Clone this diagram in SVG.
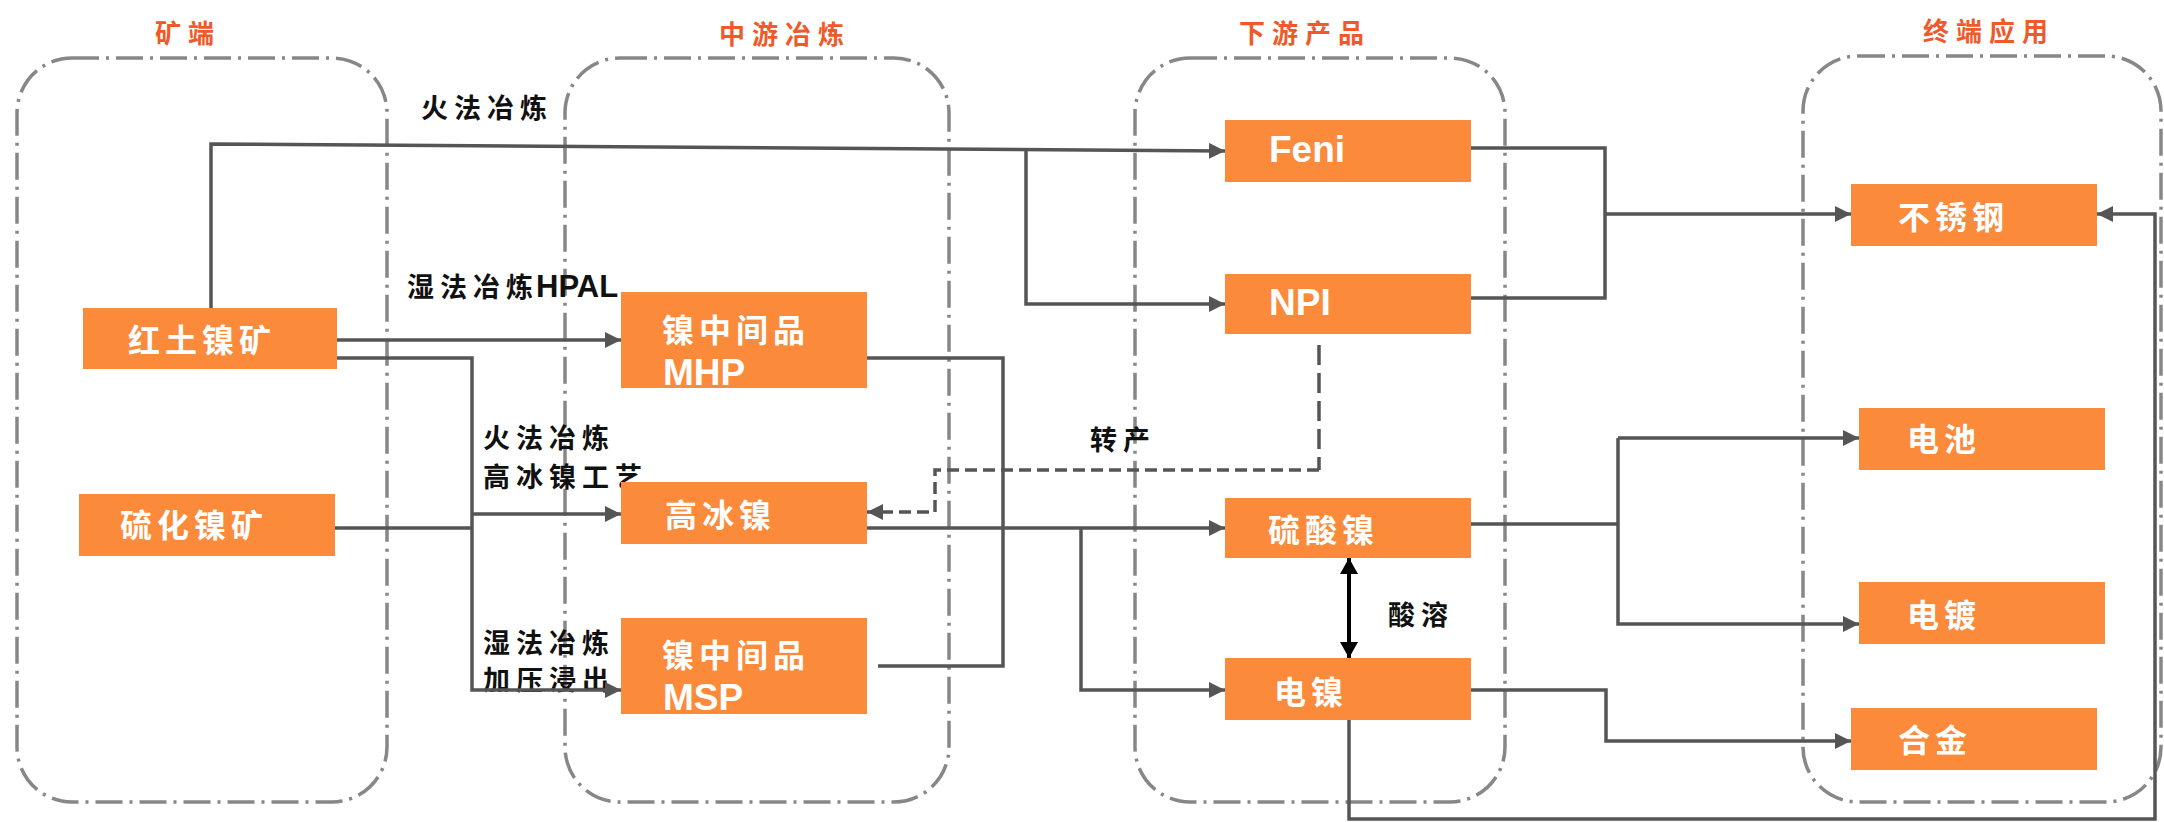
<svg xmlns="http://www.w3.org/2000/svg" width="2164" height="822" viewBox="0 0 2164 822">
<style>
.grp{fill:none;stroke:#878787;stroke-width:3.5;stroke-dasharray:27 7 3 7}
.title{font-family:"Noto Sans CJK SC",sans-serif;font-weight:bold;font-size:26px;fill:#F0592A;letter-spacing:7px}
.box{fill:#FB8A3A}
.bt{font-family:"Noto Sans CJK SC",sans-serif;font-weight:bold;font-size:32px;fill:#fff;letter-spacing:5px}
.be{font-family:"Liberation Sans",Arial,sans-serif;font-weight:bold;font-size:37px;fill:#fff}
.lbl{font-family:"Noto Sans CJK SC",sans-serif;font-weight:bold;font-size:27px;fill:#111;letter-spacing:6px}
.lbe{font-family:"Liberation Sans",Arial,sans-serif;font-weight:bold;font-size:31px;fill:#111}
.c{fill:none;stroke:#555;stroke-width:3.5}
.ca{fill:none;stroke:#555;stroke-width:3.5;marker-end:url(#ah)}
.dsh{fill:none;stroke:#555;stroke-width:3.5;stroke-dasharray:12 6}
</style>
<defs>
<marker id="ah" markerUnits="userSpaceOnUse" markerWidth="16" markerHeight="16" refX="16" refY="8" orient="auto"><path d="M0,0 L16,8 L0,16 z" fill="#555"/></marker>
<marker id="bk" markerUnits="userSpaceOnUse" markerWidth="16" markerHeight="18" refX="16" refY="9" orient="auto-start-reverse"><path d="M0,0 L16,9 L0,18 z" fill="#000"/></marker>
</defs>

<g id="groups">
<rect class="grp" x="17" y="58" width="370" height="744" rx="55" ry="55"/>
<rect class="grp" x="565" y="58" width="384" height="744" rx="55" ry="55"/>
<rect class="grp" x="1135" y="58" width="370" height="744" rx="55" ry="55"/>
<rect class="grp" x="1803" y="56" width="358" height="746" rx="55" ry="55"/>
<text class="title" x="155" y="43">矿端</text>
<text class="title" x="719" y="44">中游冶炼</text>
<text class="title" x="1239" y="43">下游产品</text>
<text class="title" x="1923" y="41">终端应用</text>
</g>

<g id="labels">
<text class="lbl" x="421" y="118">火法冶炼</text>
<text class="lbl" x="407" y="297">湿法冶炼</text>
<text class="lbe" x="536" y="297">HPAL</text>
<text class="lbl" x="483" y="448">火法冶炼</text>
<text class="lbl" x="483" y="487">高冰镍工艺</text>
<text class="lbl" x="483" y="653">湿法冶炼</text>
<text class="lbl" x="483" y="690">加压浸出</text>
<text class="lbl" x="1090" y="450">转产</text>
<text class="lbl" x="1388" y="625">酸溶</text>
</g>

<g id="connectors">
<path class="ca" d="M211,308 L211,144 L1225,151"/>
<path class="ca" d="M1026,150 L1026,304 L1225,304"/>
<path class="ca" d="M337,340 L621,340"/>
<path class="ca" d="M337,358 L472,358 L472,690 L621,690"/>
<path class="ca" d="M472,514 L621,514"/>
<path class="c" d="M335,528 L472,528"/>
<path class="c" d="M867,358 L1003,358 L1003,666 L878,666"/>
<path class="ca" d="M867,528 L1225,528"/>
<path class="ca" d="M1081,528 L1081,690 L1225,690"/>
<path class="dsh" style="stroke-dasharray:20 8" d="M1319,345 L1319,470"/>
<path class="dsh" style="marker-end:url(#ah)" d="M1319,470 L935,470 L935,512 L867,512"/>
<path d="M1349,558 L1349,658" fill="none" stroke="#000" stroke-width="4" marker-start="url(#bk)" marker-end="url(#bk)"/>
<path class="c" d="M1471,148 L1605,148 L1605,298 L1471,298"/>
<path class="ca" d="M1605,214 L1851,214"/>
<path class="c" d="M1471,524 L1618,524"/>
<path class="ca" d="M1618,438 L1859,438"/>
<path class="ca" d="M1618,438 L1618,624 L1859,624"/>
<path class="ca" d="M1471,690 L1606,690 L1606,741 L1851,741"/>
<path class="ca" d="M1349,720 L1349,819 L2155,819 L2155,214 L2097,214"/>
</g>

<g id="n-hongtu"><rect class="box" x="83" y="308" width="254" height="61"/><text class="bt" x="128" y="352">红土镍矿</text></g>
<g id="n-liuhua"><rect class="box" x="79" y="494" width="256" height="62"/><text class="bt" x="120" y="537">硫化镍矿</text></g>
<g id="n-mhp"><rect class="box" x="621" y="292" width="246" height="96"/><text class="bt" x="662" y="342">镍中间品</text><text class="be" x="663" y="385">MHP</text></g>
<g id="n-gaobing"><rect class="box" x="621" y="482" width="246" height="62"/><text class="bt" x="665" y="527">高冰镍</text></g>
<g id="n-msp"><rect class="box" x="621" y="618" width="246" height="96"/><text class="bt" x="662" y="667">镍中间品</text><text class="be" x="663" y="710">MSP</text></g>
<g id="n-feni"><rect class="box" x="1225" y="120" width="246" height="62"/><text class="be" x="1269" y="162">Feni</text></g>
<g id="n-npi"><rect class="box" x="1225" y="274" width="246" height="60"/><text class="be" x="1269" y="315">NPI</text></g>
<g id="n-liusuan"><rect class="box" x="1225" y="498" width="246" height="60"/><text class="bt" x="1268" y="542">硫酸镍</text></g>
<g id="n-dianni"><rect class="box" x="1225" y="658" width="246" height="62"/><text class="bt" x="1274" y="704">电镍</text></g>
<g id="n-buxiu"><rect class="box" x="1851" y="184" width="246" height="62"/><text class="bt" x="1898" y="229">不锈钢</text></g>
<g id="n-dianchi"><rect class="box" x="1859" y="408" width="246" height="62"/><text class="bt" x="1907" y="451">电池</text></g>
<g id="n-diandu"><rect class="box" x="1859" y="582" width="246" height="62"/><text class="bt" x="1907" y="627">电镀</text></g>
<g id="n-hejin"><rect class="box" x="1851" y="708" width="246" height="62"/><text class="bt" x="1898" y="752">合金</text></g>
</svg>
